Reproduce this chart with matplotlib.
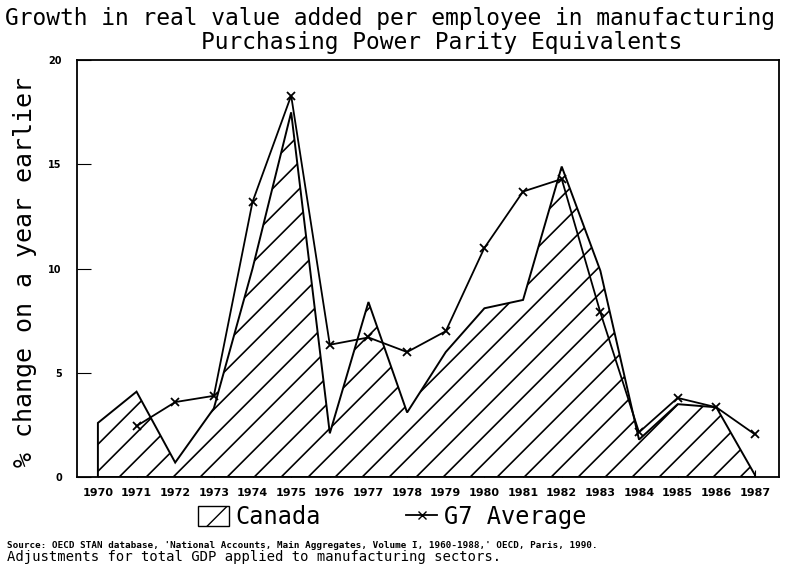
import numpy as np
import matplotlib.pyplot as plt
from matplotlib.lines import Line2D
from matplotlib.patches import Patch

years = list(range(1970, 1988))
canada = [2.6, 4.1, 0.7, 3.3, 10.0, 17.5, 2.1, 8.4, 3.1, 6.0,
          8.1, 8.5, 14.9, 9.9, 1.8, 3.5, 3.35, 0.1]

g7_years = list(range(1971, 1988))
g7 = [2.45, 3.6, 3.9, 13.2, 18.3, 6.35, 6.7, 6.0, 7.0,
      11.0, 13.7, 14.3, 7.9, 2.15, 3.8, 3.35, 2.05]

yticks = [0, 5, 10, 15, 20]
mono = 'DejaVu Sans Mono'

fig = plt.figure(figsize=(7.86, 5.68), dpi=100)
ax = fig.add_axes([0.098, 0.160, 0.893, 0.734])

# Canada area: white polygon with a black outline
xs = [years[0]] + years + [years[-1]]
ys = [0] + canada + [0]
poly = ax.fill(xs, ys, facecolor='white', edgecolor='black', lw=1.4, zorder=2)[0]

# wide diagonal hatching, clipped to the Canada polygon
asp = (0.893 * 786) / (0.734 * 568)
step = 27 / (0.893 * 786)
for c in np.arange(-1 / asp, 1.0, step):
    ln, = ax.plot([c, c + 1 / asp], [0, 1], transform=ax.transAxes,
                  color='black', lw=1.2, zorder=2)
    ln.set_clip_path(poly)

# G7 average line
ax.plot(g7_years, g7, color='black', lw=1.3, marker='x', ms=6, mew=1.3, zorder=3)

ax.set_xlim(1969.46, 1987.62)
ax.set_ylim(0, 20)
ax.set_xticks(years)
ax.set_yticks(yticks)
ax.tick_params(axis='x', direction='in', length=5, pad=8, labelsize=8)
ax.tick_params(axis='y', direction='in', length=10, pad=11, labelsize=7)
for lbl in ax.get_xticklabels() + ax.get_yticklabels():
    lbl.set_fontweight('bold')
for sp in ax.spines.values():
    sp.set_linewidth(1.3)

fig.text(0.496, 0.968, 'Growth in real value added per employee in manufacturing',
         ha='center', va='center', family=mono, size=16.5)
fig.text(0.562, 0.926, 'Purchasing Power Parity Equivalents',
         ha='center', va='center', family=mono, size=16.5)
fig.text(0.032, 0.521, '% change on a year earlier', rotation=90,
         ha='center', va='center', family=mono, size=18)

handles = [Patch(facecolor='white', edgecolor='black', hatch='/', label='Canada'),
           Line2D([], [], color='black', marker='x', lw=1.3, label='G7 Average')]
fig.legend(handles=handles, loc='center', bbox_to_anchor=(0.499, 0.09), ncol=2,
           frameon=False, prop=dict(family=mono, size=17), handlelength=1.3,
           handleheight=0.95, handletextpad=0.3, columnspacing=3.6)

fig.text(0.009, 0.040,
         "Source: OECD STAN database, 'National Accounts, Main Aggregates, "
         "Volume I, 1960-1988,' OECD, Paris, 1990.",
         va='center', family=mono, size=6.7, weight='bold')
fig.text(0.009, 0.019, 'Adjustments for total GDP applied to manufacturing sectors.',
         va='center', family=mono, size=10)

fig.savefig('out.png', dpi=100)
